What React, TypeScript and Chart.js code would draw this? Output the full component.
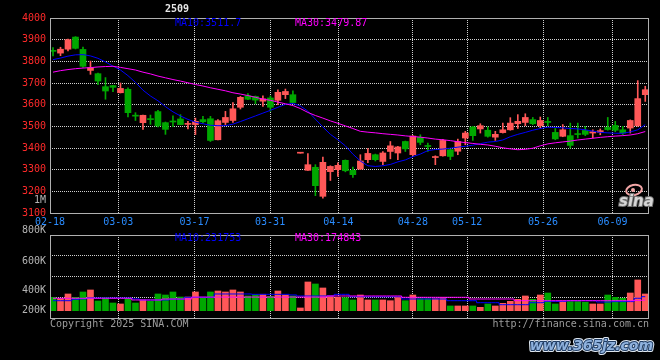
import React, { useEffect, useRef } from "react";
import { Chart, registerables } from "chart.js";

Chart.register(...registerables);

// ---- data (one entry per trading day, index 0 = 02-18) ----
const openP = [
  3850, 3838, 3856, 3912, 3855, 3758, 3743, 3683, 3688, 3655,
  3671, 3549, 3517, 3533, 3568, 3517, 3524, 3534, 3509, 3508,
  3531, 3535, 3438, 3518, 3527, 3588, 3641, 3638, 3616, 3631,
  3620, 3646, 3646, 3376, 3297, 3311, 3177, 3291, 3300, 3343,
  3297, 3303, 3346, 3369, 3338, 3384, 3377, 3430, 3369, 3449,
  3409, 3356, 3364, 3392, 3385, 3446, 3497, 3488, 3482, 3450,
  3471, 3484, 3512, 3518, 3531, 3503, 3522, 3472, 3454, 3457,
  3466, 3481, 3469, 3473, 3495, 3504, 3484, 3492, 3503, 3646,
];
const closeP = [
  3846, 3856, 3900, 3860, 3777, 3771, 3709, 3663, 3680, 3675,
  3563, 3547, 3551, 3531, 3502, 3486, 3520, 3508, 3512, 3523,
  3521, 3435, 3526, 3541, 3581, 3634, 3625, 3621, 3627, 3588,
  3657, 3661, 3610, 3378, 3323, 3226, 3334, 3315, 3320, 3295,
  3277, 3340, 3375, 3346, 3377, 3410, 3405, 3396, 3455, 3426,
  3407, 3360, 3435, 3361, 3430, 3469, 3457, 3503, 3454, 3463,
  3484, 3515, 3523, 3541, 3512, 3527, 3518, 3442, 3484, 3412,
  3462, 3463, 3475, 3480, 3485, 3482, 3469, 3527, 3628, 3669,
];
const highP = [
  3863, 3865, 3903, 3914, 3866, 3801, 3746, 3725, 3689, 3700,
  3678, 3563, 3552, 3552, 3574, 3520, 3548, 3554, 3523, 3538,
  3546, 3546, 3531, 3569, 3610, 3638, 3651, 3640, 3641, 3640,
  3669, 3672, 3664, 3378, 3374, 3323, 3358, 3318, 3331, 3345,
  3312, 3369, 3397, 3372, 3384, 3430, 3408, 3432, 3457, 3461,
  3423, 3364, 3440, 3395, 3441, 3477, 3500, 3512, 3497, 3477,
  3515, 3540, 3554, 3558, 3541, 3543, 3541, 3490, 3508, 3515,
  3515, 3500, 3484, 3488, 3541, 3523, 3500, 3530, 3711, 3685,
];
const lowP = [
  3825, 3826, 3848, 3857, 3772, 3740, 3692, 3625, 3660, 3654,
  3543, 3527, 3486, 3509, 3497, 3463, 3498, 3507, 3488, 3462,
  3515, 3430, 3437, 3508, 3518, 3580, 3623, 3604, 3592, 3569,
  3600, 3628, 3605, 3376, 3296, 3180, 3169, 3250, 3269, 3290,
  3264, 3300, 3332, 3340, 3323, 3350, 3346, 3384, 3365, 3415,
  3384, 3323, 3362, 3346, 3369, 3415, 3435, 3469, 3450, 3435,
  3469, 3482, 3490, 3503, 3508, 3492, 3503, 3438, 3452, 3400,
  3446, 3457, 3446, 3461, 3482, 3475, 3462, 3469, 3500, 3615,
];
const ma10 = [
  3808, 3815, 3824, 3830, 3831, 3825, 3814, 3797, 3778, 3760,
  3734, 3703, 3667, 3640, 3618, 3591, 3567, 3548, 3532, 3519,
  3512, 3505, 3503, 3503, 3510, 3522, 3535, 3548, 3561, 3574,
  3588, 3601, 3606, 3594, 3570, 3533, 3497, 3463, 3438, 3410,
  3372, 3340, 3318, 3315, 3318, 3324, 3336, 3345, 3360, 3372,
  3388, 3393, 3395, 3399, 3404, 3408, 3413, 3420, 3427, 3430,
  3437, 3452, 3463, 3472, 3482, 3490, 3496, 3495, 3493, 3490,
  3488, 3484, 3478, 3472, 3470, 3468, 3468, 3474, 3484, 3508,
];
const ma30 = [
  3750, 3757, 3762, 3766, 3769, 3771, 3774, 3776, 3777, 3772,
  3766, 3760, 3750, 3742, 3732, 3724, 3716, 3709, 3701, 3693,
  3686, 3678, 3671, 3664, 3655, 3649, 3642, 3634, 3626, 3620,
  3612, 3604, 3596, 3582, 3564, 3550, 3538, 3525, 3514, 3502,
  3490, 3477, 3473, 3470, 3466, 3463, 3460, 3456, 3453, 3450,
  3446, 3441, 3438, 3434, 3429, 3425, 3421, 3417, 3414, 3408,
  3401, 3396, 3392, 3394, 3399, 3410, 3419, 3424, 3428, 3432,
  3437, 3441, 3445, 3449, 3452, 3455, 3457, 3460, 3466, 3476,
];
const volume = [
  221000, 198000, 276000, 221000, 309000, 342000, 160000, 215000, 127000, 111000,
  205000, 127000, 177000, 155000, 276000, 259000, 309000, 226000, 226000, 309000,
  215000, 309000, 325000, 309000, 342000, 309000, 243000, 264000, 271000, 238000,
  325000, 259000, 243000, 45000, 474000, 441000, 375000, 243000, 221000, 215000,
  177000, 259000, 177000, 177000, 177000, 165000, 221000, 165000, 259000, 198000,
  198000, 198000, 221000, 78000, 78000, 78000, 78000, 56000, 111000, 78000,
  122000, 155000, 188000, 243000, 188000, 259000, 292000, 111000, 160000, 149000,
  149000, 139000, 111000, 111000, 259000, 221000, 205000, 292000, 507000, 276000,
];
const volMa10 = [
  165000, 165000, 165000, 188000, 195000, 210000, 210000, 210000, 210000, 210000,
  210000, 195000, 177000, 177000, 177000, 177000, 190000, 190000, 221000, 221000,
  221000, 221000, 276000, 276000, 276000, 276000, 276000, 270000, 270000, 270000,
  270000, 270000, 260000, 243000, 243000, 243000, 243000, 243000, 270000, 270000,
  230000, 230000, 230000, 230000, 230000, 230000, 230000, 193000, 193000, 193000,
  193000, 193000, 193000, 165000, 165000, 165000, 165000, 132000, 132000, 132000,
  99000, 99000, 99000, 99000, 132000, 132000, 154000, 154000, 154000, 165000,
  165000, 165000, 165000, 143000, 143000, 150000, 150000, 150000, 205000, 231000,
];
const volMa30 = [
  205000, 205000, 205000, 205000, 205000, 205000, 205000, 205000, 205000, 205000,
  205000, 177000, 177000, 177000, 177000, 193000, 193000, 193000, 193000, 225000,
  225000, 225000, 225000, 225000, 225000, 225000, 225000, 225000, 225000, 225000,
  225000, 225000, 225000, 225000, 225000, 225000, 225000, 243000, 243000, 243000,
  243000, 243000, 243000, 243000, 243000, 243000, 243000, 221000, 221000, 221000,
  221000, 221000, 221000, 221000, 221000, 221000, 193000, 193000, 193000, 193000,
  193000, 193000, 165000, 165000, 165000, 165000, 165000, 165000, 165000, 165000,
  165000, 165000, 165000, 165000, 165000, 165000, 165000, 165000, 170000, 175000,
];
// date tick labels and where they fall on the day-index axis
const dateTickLabels = ["02-18", "03-03", "03-17", "03-31", "04-14", "04-28", "05-12", "05-26", "06-09"];
const dateTickAt = [-0.4, 8.71, 18.87, 28.96, 38.07, 48.0, 55.24, 65.37, 74.63];
const volAxisLabels = ["800K", "600K", "400K", "200K"];
const symbol = "2509";
const priceMa10Text = "MA10:3511.7";
const priceMa30Text = "MA30:3479.87";
const volMa10Text = "MA10:231753";
const volMa30Text = "MA30:174843";

// ---- styles ----
const RED = "#ff5858";
const GREEN = "#00a800";
const BLUE = "#0000ff";
const MAGENTA = "#ff00ff";
const GRID = "#d0d0d0";
const FRAME = "#b0b0b0";
const MONO = "'DejaVu Sans Mono', monospace";
const X_MIN = -0.4;
const X_MAX = 79.5;
const VOL_MIN = -120500;
const VOL_MAX = 1249000;

type TextItem = { text: string; x: number; y: number; color: string; align?: CanvasTextAlign; font?: string };

function textPlugin(id: string, items: TextItem[], extra?: (ctx: CanvasRenderingContext2D) => void) {
  return {
    id,
    afterDraw(chart: any) {
      const ctx: CanvasRenderingContext2D = chart.ctx;
      ctx.save();
      ctx.textBaseline = "middle";
      for (const t of items) {
        ctx.font = t.font || `10px ${MONO}`;
        ctx.fillStyle = t.color;
        ctx.textAlign = t.align || "left";
        ctx.fillText(t.text, t.x, t.y);
      }
      if (extra) extra(ctx);
      ctx.restore();
    },
  };
}

const framePlugin = {
  id: "frame",
  afterDatasetsDraw(chart: any) {
    const { left, top, right, bottom } = chart.chartArea;
    const ctx: CanvasRenderingContext2D = chart.ctx;
    ctx.save();
    ctx.strokeStyle = FRAME;
    ctx.lineWidth = 1;
    ctx.setLineDash([]);
    ctx.strokeRect(left + 0.5, top + 0.5, right - left - 1, bottom - top);
    ctx.restore();
  },
};

function xScale(showLabels: boolean) {
  return {
    type: "linear",
    offset: false,
    min: X_MIN,
    max: X_MAX,
    afterBuildTicks: (s: any) => {
      s.ticks = dateTickAt.map((v) => ({ value: v }));
    },
    afterFit: (s: any) => {
      s.height = showLabels ? 16 : 0;
    },
    ticks: {
      display: showLabels,
      autoSkip: false,
      maxRotation: 0,
      minRotation: 0,
      color: "#2a8cff",
      font: { family: MONO, size: 10 },
      padding: 3,
      callback: (_v: any, i: number) => dateTickLabels[i],
    },
    grid: {
      offset: false,
      drawTicks: false,
      lineWidth: 1,
      color: (c: any) => (c.index === 0 ? "rgba(0,0,0,0)" : GRID),
    },
    border: { display: false, dash: [1, 1] },
  };
}

export default function App() {
  const priceRef = useRef<HTMLCanvasElement>(null);
  const volRef = useRef<HTMLCanvasElement>(null);

  useEffect(() => {
    const n = closeP.length;
    const idx = Array.from({ length: n }, (_, i) => i);
    const colorAt = (c: any) => (closeP[c.dataIndex] >= openP[c.dataIndex] ? RED : GREEN);

    const priceTexts: TextItem[] = [
      { text: symbol, x: 165, y: 9.5, color: "#e6e6e6", font: `bold 10px ${MONO}` },
      { text: priceMa10Text, x: 175, y: 23, color: BLUE },
      { text: priceMa30Text, x: 295, y: 23, color: MAGENTA },
      { text: "1M", x: 46, y: 200, color: "#b4b4b4", align: "right" },
    ];
    const sinaLogo = (ctx: CanvasRenderingContext2D) => {
      ctx.strokeStyle = "#f2a6a6";
      ctx.lineWidth = 2;
      ctx.beginPath();
      ctx.ellipse(634, 190, 8, 5, -0.2, 0, Math.PI * 2);
      ctx.stroke();
      ctx.fillStyle = "#f2a6a6";
      ctx.beginPath();
      ctx.arc(633, 190, 2, 0, Math.PI * 2);
      ctx.fill();
      ctx.font = "italic bold 15px 'DejaVu Sans', sans-serif";
      ctx.textAlign = "left";
      ctx.lineWidth = 2;
      ctx.strokeStyle = "#707070";
      ctx.strokeText("sina", 619, 202);
      ctx.fillStyle = "#d6d6d6";
      ctx.fillText("sina", 619, 202);
    };

    const price = new Chart(priceRef.current as HTMLCanvasElement, {
      type: "bar",
      data: {
        datasets: [
          {
            type: "bar",
            data: idx.map((i) => ({ x: i, y: [lowP[i], highP[i]] })),
            backgroundColor: colorAt,
            barThickness: 1,
            grouped: false,
            order: 3,
          } as any,
          {
            type: "bar",
            data: idx.map((i) => ({ x: i, y: [openP[i], closeP[i]] })),
            backgroundColor: colorAt,
            barThickness: 6,
            minBarLength: 1,
            grouped: false,
            order: 2,
          } as any,
          {
            type: "line",
            data: idx.map((i) => ({ x: i, y: ma10[i] })),
            borderColor: BLUE,
            borderWidth: 1,
            pointRadius: 0,
            tension: 0,
            order: 1,
          } as any,
          {
            type: "line",
            data: idx.map((i) => ({ x: i, y: ma30[i] })),
            borderColor: MAGENTA,
            borderWidth: 1,
            pointRadius: 0,
            tension: 0,
            order: 0,
          } as any,
        ],
      },
      options: {
        responsive: false,
        devicePixelRatio: 1,
        animation: false,
        events: [],
        layout: { padding: { top: 18, right: 11, bottom: 131, left: 0 } },
        plugins: { legend: { display: false }, tooltip: { enabled: false } },
        scales: {
          x: xScale(true) as any,
          y: {
            min: 3100,
            max: 4000,
            afterFit: (s: any) => {
              s.width = 50;
            },
            ticks: {
              stepSize: 100,
              color: "#ff2a2a",
              font: { family: MONO, size: 10 },
              padding: 4,
              callback: (v: any) => String(v),
            },
            grid: { drawTicks: false, color: GRID, lineWidth: 1 },
            border: { display: false, dash: [1, 1] },
          },
        },
      },
      plugins: [framePlugin, textPlugin("priceTexts", priceTexts, sinaLogo)],
    });

    const volTexts: TextItem[] = [
      { text: volMa10Text, x: 175, y: 238.5, color: BLUE },
      { text: volMa30Text, x: 295, y: 238.5, color: MAGENTA },
      { text: volAxisLabels[0], x: 46, y: 230.5, color: "#b4b4b4", align: "right" },
      { text: volAxisLabels[1], x: 46, y: 261.5, color: "#b4b4b4", align: "right" },
      { text: volAxisLabels[2], x: 46, y: 290.5, color: "#b4b4b4", align: "right" },
      { text: volAxisLabels[3], x: 46, y: 310, color: "#b4b4b4", align: "right" },
      { text: "Copyright 2025 SINA.COM", x: 50, y: 324, color: "#9c9c9c" },
      { text: "http://finance.sina.com.cn", x: 649, y: 324, color: "#9c9c9c", align: "right" },
    ];
    const watermark = (ctx: CanvasRenderingContext2D) => {
      ctx.font = "italic bold 14px 'DejaVu Sans', sans-serif";
      ctx.textAlign = "right";
      ctx.lineJoin = "round";
      ctx.lineWidth = 4;
      ctx.strokeStyle = "#dfe8f2";
      ctx.strokeText("www.365jz.com", 653, 346);
      ctx.lineWidth = 2;
      ctx.strokeStyle = "#1f3c63";
      ctx.strokeText("www.365jz.com", 653, 346);
      ctx.fillStyle = "#8fb2de";
      ctx.fillText("www.365jz.com", 653, 346);
    };

    const vol = new Chart(volRef.current as HTMLCanvasElement, {
      type: "bar",
      data: {
        datasets: [
          {
            type: "bar",
            data: idx.map((i) => ({ x: i, y: volume[i] })),
            backgroundColor: colorAt,
            barThickness: 6,
            grouped: false,
            order: 2,
          } as any,
          {
            type: "line",
            data: idx.map((i) => ({ x: i, y: volMa10[i] })),
            borderColor: BLUE,
            borderWidth: 1,
            pointRadius: 0,
            stepped: "middle",
            order: 1,
          } as any,
          {
            type: "line",
            data: idx.map((i) => ({ x: i, y: volMa30[i] })),
            borderColor: MAGENTA,
            borderWidth: 1,
            pointRadius: 0,
            stepped: "middle",
            order: 0,
          } as any,
        ],
      },
      options: {
        responsive: false,
        devicePixelRatio: 1,
        animation: false,
        events: [],
        layout: { padding: { top: 235, right: 11, bottom: 42, left: 0 } },
        plugins: { legend: { display: false }, tooltip: { enabled: false } },
        scales: {
          x: xScale(false) as any,
          y: {
            min: VOL_MIN,
            max: VOL_MAX,
            afterBuildTicks: (s: any) => {
              s.ticks = [0, 1, 2, 3, 4].map((k) => ({ value: VOL_MIN + (k * (VOL_MAX - VOL_MIN)) / 4 }));
            },
            afterFit: (s: any) => {
              s.width = 50;
            },
            ticks: { display: false },
            grid: {
              drawTicks: false,
              lineWidth: 1,
              color: (c: any) => (c.index === 0 || c.index === 4 ? "rgba(0,0,0,0)" : GRID),
            },
            border: { display: false, dash: [1, 1] },
          },
        },
      },
      plugins: [framePlugin, textPlugin("volTexts", volTexts, watermark)],
    });

    return () => {
      price.destroy();
      vol.destroy();
    };
  }, []);

  return (
    <div style={{ position: "fixed", left: 0, top: 0, width: 660, height: 360, background: "#000" }}>
      <canvas ref={priceRef} width={660} height={360} style={{ position: "absolute", left: 0, top: 0 }} />
      <canvas ref={volRef} width={660} height={360} style={{ position: "absolute", left: 0, top: 0 }} />
    </div>
  );
}
